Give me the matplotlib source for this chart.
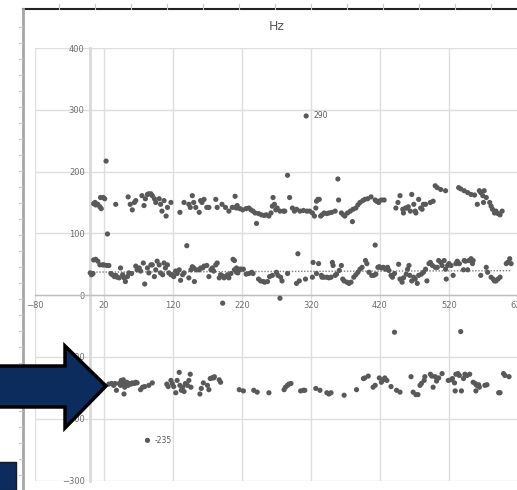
import numpy as np
import matplotlib
matplotlib.use("Agg")
import matplotlib.pyplot as plt
from matplotlib.patches import Polygon, Rectangle
from matplotlib.lines import Line2D

plt.rcParams['font.family'] = ['Liberation Sans Narrow', 'DejaVu Sans']

# ============
# DATA
# ============

# upper band, around 130-165 Hz
upper_x = [5, 7, 8, 11, 14, 16, 15, 19, 21, 37, 55, 58, 61, 64, 66, 75, 78, 80, 83, 85,
           88, 90, 93, 95, 100, 102, 104, 107, 110, 112, 117, 130, 136, 143, 145, 148,
           150, 153, 158, 160, 162, 165, 169, 172, 182, 184, 191, 196, 201, 206, 211, 213,
           210, 212, 217, 221, 226, 230, 233, 236, 239, 241, 244, 248, 252, 255, 259, 262,
           264, 265, 267, 269, 271, 275, 280, 282, 286, 289, 293, 296, 299, 304, 309, 314,
           318, 322, 325, 327, 328, 330, 332, 334, 336, 339, 343, 346, 350, 355, 359, 360,
           364, 367, 369, 373, 377, 380, 381, 385, 388, 391, 395, 398, 402, 407, 413, 418,
           415, 418, 422, 426, 443, 446, 449, 453, 454, 457, 459, 461, 464, 466, 469, 471,
           472, 476, 479, 481, 483, 486, 493, 497, 500, 503, 508, 515, 534, 537, 542, 547,
           552, 557, 561, 564, 566, 569, 570, 571, 574, 579, 581, 583, 586, 588, 591, 594,
           597, 23]
upper_y = [148, 150, 146, 147, 143, 140, 158, 158, 156, 147, 159, 147, 138, 150, 153, 161, 145, 156, 163, 164,
           164, 161, 156, 150, 156, 147, 136, 153, 128, 142, 150, 134, 150, 147, 142, 161,
           150, 142, 134, 153, 150, 155, 142, 142, 155, 142, 147, 142, 136, 142, 142, 145,
           160, 141, 140, 138, 140, 141, 138, 136, 133, 116, 132, 130, 129, 130, 128, 133,
           144, 158, 147, 138, 141, 136, 136, 136, 194, 158, 141, 136, 139, 136, 137, 136,
           136, 133, 128, 141, 152, 155, 155, 128, 130, 133, 132, 133, 134, 136, 188, 154,
           133, 130, 128, 133, 136, 119, 139, 141, 146, 150, 153, 155, 156, 159, 154, 150,
           152, 152, 154, 154, 141, 150, 161, 139, 133, 141, 141, 143, 136, 163, 147, 136,
           133, 155, 141, 139, 147, 147, 150, 152, 177, 174, 171, 169, 174, 172, 169, 166,
           163, 162, 147, 169, 166, 161, 150, 169, 158, 150, 144, 139, 133, 136, 132, 130,
           136, 217]

# lower band, around 20-60 Hz
lower_x = [0, 2, 4, 5, 8, 11, 14, 18, 20, 24, 27, 30, 32, 35, 37, 39, 42, 44, 47, 49,
           51, 54, 56, 60, 66, 68, 71, 73, 77, 79, 83, 85, 88, 90, 93, 95, 97, 100, 102, 105,
           107, 109, 112, 114, 117, 119, 121, 124, 126, 129, 131, 134, 136, 140, 143, 146, 148, 150, 151, 154,
           158, 160, 163, 165, 169, 172, 175, 177, 179, 182, 184, 187, 189, 192, 194, 196, 199, 201, 204, 207,
           209, 212, 214, 25, 192,
           209, 212, 214, 217, 219, 222, 226, 230, 234, 236, 244, 247, 251, 253, 257, 260, 264, 270, 272, 276,
           278, 275, 286, 299, 301, 303, 312, 322, 323, 328, 331, 335, 336, 339, 343, 346, 349, 351, 352, 355,
           357, 361, 364, 366, 368, 372, 375, 378, 382, 385, 388, 391, 394, 399, 401, 404, 408, 411, 413, 417,
           414, 419, 422, 425, 428, 431, 433, 436, 438, 441, 447, 449, 452, 454, 458, 460, 462, 463, 466, 469,
           471, 474, 476, 480, 483, 486, 488, 491, 493, 496, 500, 503, 505, 508, 510, 513, 516, 515, 518, 520,
           523, 526, 530, 532, 535, 541, 542, 544, 547, 549, 552, 554, 555, 566, 574, 576, 581, 584, 586, 588,
           591, 594, 603, 605, 608, 610]
lower_y = [36, 33, 35, 57, 58, 55, 49, 49, 49, 48, 48, 35, 33, 30, 32, 29, 28, 44, 33, 28,
           22, 30, 36, 35, 47, 41, 44, 39, 52, 18, 44, 36, 49, 49, 30, 41, 55, 49, 36, 33,
           52, 44, 49, 36, 33, 33, 30, 39, 35, 41, 24, 33, 36, 80, 28, 41, 46, 44, 22, 41,
           41, 44, 44, 47, 48, 30, 41, 44, 39, 49, 52, 28, 33, 31, 28, 30, 33, 28, 35, 58,
           41, 44, 36, 99, -13,
           56, 37, 40, 42, 42, 42, 34, 35, 37, 35, 26, 23, 22, 21, 22, 30, 32, 37, 32, 29,
           23, -5, 35, 19, 67, 23, 26, 29, 53, 35, 51, 32, 29, 29, 29, 28, 29, 53, 48, 32,
           34, 40, 48, 26, 23, 21, 19, 21, 29, 33, 37, 42, 45, 56, 51, 37, 32, 32, 81, 45,
           34, 46, 44, 45, 42, 45, 40, 32, 29, 35, 50, 26, 21, 28, 34, 42, 48, 32, 23, 29,
           26, 19, 32, 34, 37, 42, 23, 51, 53, 48, 45, 45, 56, 53, 48, 56, 26, 42, 48, 51,
           48, 32, 51, 55, 51, 41, 56, 55, 41, 56, 59, 51, 56, 32, 45, 37, 29, 26, 23, 23,
           26, 29, 51, 53, 59, 51]

# negative band, around -125 to -160 Hz
neg_x = [27, 31, 34, 36, 38, 42, 44, 45, 47, 48, 50, 51, 49, 53, 55, 56, 59, 61, 64, 66,
         68, 73, 76, 79, 85, 90, 111, 113, 117, 119, 121, 124, 126, 129, 130, 132, 134, 136, 138, 141,
         143, 145, 146, 159, 161, 164, 170, 172, 174, 176, 179, 180, 187, 189, 216, 222, 237, 242, 259, 281,
         283, 286, 288, 291, 305, 309, 311, 327, 333, 343, 346, 349, 368, 386, 396, 398, 403, 410, 413, 419,
         422, 425, 427, 430, 436, 444, 449, 465, 468, 472, 475, 478, 480, 484, 485, 493, 495, 497, 500, 502,
         505, 510, 519, 523, 525, 528, 529, 530, 533, 535, 538, 541, 543, 546, 550, 555, 558, 559, 560, 563,
         564, 572, 575, 592, 594, 599, 601, 607, 441, 537]
neg_y = [-144, -143, -146, -143, -154, -143, -146, -138, -141, -137, -149, -146, -160, -141, -146, -143, -144, -142, -143, -141,
         -142, -153, -149, -148, -146, -142, -144, -148, -138, -143, -148, -158, -138, -125, -146, -154, -149, -156, -143, -146,
         -138, -128, -149, -160, -151, -142, -146, -153, -135, -134, -134, -132, -137, -141, -153, -155, -154, -157, -158, -153,
         -149, -146, -144, -143, -155, -154, -154, -151, -154, -158, -160, -158, -162, -153, -135, -134, -131, -149, -146, -134,
         -141, -137, -134, -138, -148, -154, -157, -132, -157, -161, -161, -146, -143, -138, -132, -128, -131, -149, -132, -139,
         -134, -127, -138, -137, -135, -142, -155, -128, -127, -130, -155, -135, -128, -130, -128, -141, -143, -155, -146, -145,
         -149, -146, -145, -158, -158, -127, -130, -132, -60, -59]

# points with data labels
label_x = [313, 83]
label_y = [290, -235]
label_text = ["290", "-235"]

x_ticks = [-80, 20, 120, 220, 320, 420, 520, 620]
y_ticks = [-300, -200, -100, 0, 100, 200, 300, 400]

# ============
# FIGURE
# ============

W, H = 517, 490
fig = plt.figure(figsize=(W / 100, H / 100), dpi=100)
fig.patch.set_facecolor("white")

ax = fig.add_axes([35 / W, (H - 480.5) / H, 483 / W, 432.5 / H])
ax.set_xlim(-80, 620)
ax.set_ylim(-300, 400)
ax.set_xticks(x_ticks)
ax.set_yticks(y_ticks)
ax.grid(True, color="#dedede", linewidth=1.0)
ax.set_axisbelow(True)

for side in ["top", "right"]:
    ax.spines[side].set_visible(False)
ax.spines["left"].set_position(("data", 0))
ax.spines["bottom"].set_position(("data", 0))
ax.spines["left"].set_color("#d9d9d9")
ax.spines["left"].set_linewidth(2)
ax.spines["bottom"].set_color("#bfbfbf")
ax.spines["bottom"].set_linewidth(1)
ax.tick_params(length=0, labelsize=6, labelcolor="#6e6e6e", pad=4)

dot = dict(s=14, color="#595959", edgecolors="none", zorder=3)
ax.scatter(upper_x, upper_y, **dot)
ax.scatter(lower_x, lower_y, **dot)
ax.scatter(neg_x, neg_y, **dot)
ax.scatter(label_x, label_y, **dot)
for x, y, t in zip(label_x, label_y, label_text):
    ax.annotate(t, (x, y), xytext=(5, 0), textcoords="offset points",
                va="center", fontsize=5.5, color="#595959")

# linear trendline on the lower band (Excel style dotted)
band = [(x, y) for x, y in zip(lower_x, lower_y) if 10 < y < 70]
bx = np.array([p[0] for p in band])
by = np.array([p[1] for p in band])
k, b0 = np.polyfit(bx, by, 1)
tx = np.array([min(lower_x), max(lower_x)])
ax.plot(tx, k * tx + b0, linestyle=(0, (1, 1.2)), color="#7f7f7f", linewidth=1.0, zorder=2)

fig.text(277 / W, 1 - 27 / H, "Hz", fontsize=9, color="#595959", ha="center", va="center")

# ============
# SCREENSHOT FRAME + ARROW
# ============

def px(x, y):
    return (x / W, 1 - y / H)

fig.add_artist(Line2D([23 / W, 1], [1 - 9 / H] * 2, color="#222222", linewidth=1.5))
fig.add_artist(Line2D([22.5 / W] * 2, [1 - 9 / H, 0], color="#a6a6a6", linewidth=2))
for tx_ in range(59, 500, 36):
    fig.add_artist(Line2D([tx_ / W] * 2, [1 - 4 / H, 1 - 9 / H], color="#c8c8c8", linewidth=0.8))
for ty_ in range(27, 490, 16):
    fig.add_artist(Line2D([19 / W, 22 / W], [1 - ty_ / H] * 2, color="#c8c8c8", linewidth=0.8))

arrow = [px(-3, 366), px(65, 366), px(65, 346), px(106, 386),
         px(65, 428), px(65, 407), px(-3, 407)]
fig.add_artist(Polygon(arrow, closed=True, transform=fig.transFigure,
                       facecolor="#0b2c5c", edgecolor="black", linewidth=2.5,
                       joinstyle="miter", zorder=10))
fig.add_artist(Rectangle(px(-2, 490), 18 / W, 28 / H, transform=fig.transFigure,
                         facecolor="#0b2c5c", edgecolor="#1a1a1a", linewidth=1, zorder=10))

fig.savefig("out.png", dpi=100)
